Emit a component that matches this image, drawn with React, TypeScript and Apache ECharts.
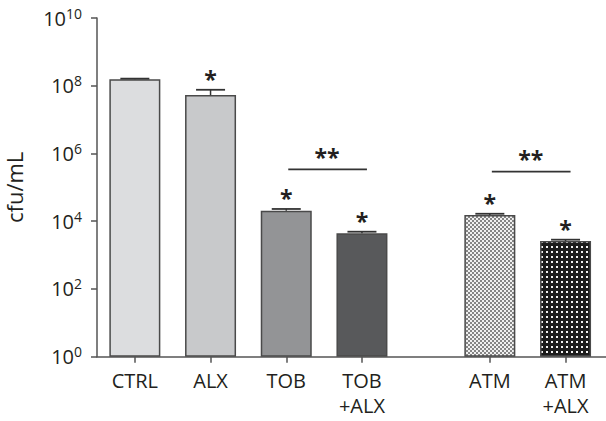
import React, { useEffect, useRef } from 'react';
import * as echarts from 'echarts';

// ---- data ----
const leftCategories = ['CTRL', 'ALX', 'TOB', 'TOB\n+ALX'];
const rightCategories = ['ATM', 'ATM\n+ALX'];
const leftMeans = [1.55e8, 5.3e7, 2.04e4, 4.4e3];
const leftErrorTops = [1.62e8, 7.6e7, 2.3e4, 4.9e3];
const leftSignificant = [false, true, true, true];
const rightMeans = [1.53e4, 2.6e3];
const rightErrorTops = [1.66e4, 2.85e3];
const rightSignificant = [true, true];
const yTickValues = [1, 1e2, 1e4, 1e6, 1e8, 1e10];
// [fromIndex, toIndex, level, label]
const leftComparisons: [number, number, number, string][] = [[2, 3, 3.4e5, '**']];
const rightComparisons: [number, number, number, string][] = [[0, 1, 2.9e5, '**']];

const FONT = 'Open Sans';
const AXIS_COLOR = '#555';
const TEXT_COLOR = '#231f20';
const BORDER = '#4a4a4a';

function makePattern(size: number, bg: string, fg: string, dots: number[][]) {
  const c = document.createElement('canvas');
  c.width = size;
  c.height = size;
  const ctx = c.getContext('2d')!;
  ctx.fillStyle = bg;
  ctx.fillRect(0, 0, size, size);
  ctx.fillStyle = fg;
  dots.forEach(([x, y, w, h]) => ctx.fillRect(x, y, w, h));
  return c;
}

export default function App() {
  const ref = useRef<HTMLDivElement>(null);
  useEffect(() => {
    document.body.style.margin = '0';
    const chart = echarts.init(ref.current!, null, { renderer: 'svg' });

    const atmPattern = makePattern(4, '#f0f0f0', '#858585', [[0, 0, 2, 2], [2, 2, 2, 2]]);
    const atmAlxPattern = makePattern(5, '#1c1c1c', '#f2f2f2', [[1, 1, 2, 2]]);

    const leftColors: any[] = ['#dcdddf', '#c8c9cb', '#939496', '#58595b'];
    const rightColors: any[] = [
      { image: atmPattern, repeat: 'repeat' },
      { image: atmAlxPattern, repeat: 'repeat' },
    ];

    const grids = [
      { left: 97, top: 18, width: 302.8, height: 338.7 },
      { left: 452, top: 18, width: 151.4, height: 338.7 },
      { left: 97, top: 18, right: 0, height: 338.7 },
    ];

    const xLabel = {
      fontFamily: FONT,
      fontSize: 20,
      color: TEXT_COLOR,
      lineHeight: 25,
      margin: 11,
      interval: 0,
    };

    const xAxisCommon = {
      type: 'category' as const,
      axisLine: { show: false },
      axisTick: { show: true, alignWithLabel: true, length: 6, lineStyle: { color: AXIS_COLOR, width: 1.5 } },
      axisLabel: xLabel,
    };

    const yAxisCommon = {
      type: 'log' as const,
      logBase: 10,
      min: 1,
      max: 1e10,
      splitLine: { show: false },
      minorTick: { show: false },
    };

    const errorSeries = (xi: number, means: number[], tops: number[], sig: boolean[]) => ({
      type: 'custom',
      xAxisIndex: xi,
      yAxisIndex: xi,
      z: 5,
      data: means.map((m, i) => [i, m, tops[i], sig[i] ? 1 : 0]),
      renderItem: (params: any, api: any) => {
        const i = api.value(0);
        const pBase = api.coord([i, api.value(1)]);
        const pTop = api.coord([i, api.value(2)]);
        const half = 14.5;
        const children: any[] = [
          { type: 'line', shape: { x1: pBase[0], y1: pBase[1], x2: pTop[0], y2: pTop[1] }, style: { stroke: '#333', lineWidth: 1.5 } },
          { type: 'line', shape: { x1: pTop[0] - half, y1: pTop[1], x2: pTop[0] + half, y2: pTop[1] }, style: { stroke: '#333', lineWidth: 1.8 } },
        ];
        if (api.value(3)) {
          children.push({
            type: 'text',
            x: pTop[0],
            y: pTop[1] + 1,
            style: { text: '*', fontFamily: FONT, fontSize: 23, fontWeight: 'bold', fill: TEXT_COLOR, align: 'center', verticalAlign: 'bottom' },
          });
        }
        return { type: 'group', children };
      },
    });

    const compareSeries = (xi: number, comps: [number, number, number, string][]) => ({
      type: 'custom',
      xAxisIndex: xi,
      yAxisIndex: xi,
      z: 5,
      data: comps.map((c) => [c[0], c[1], c[2]]),
      renderItem: (params: any, api: any) => {
        const p1 = api.coord([api.value(0), api.value(2)]);
        const p2 = api.coord([api.value(1), api.value(2)]);
        const label = comps[params.dataIndex][3];
        return {
          type: 'group',
          children: [
            { type: 'line', shape: { x1: p1[0] + 2, y1: p1[1], x2: p2[0] + 5, y2: p2[1] }, style: { stroke: '#333', lineWidth: 1.8 } },
            {
              type: 'text',
              x: (p1[0] + p2[0]) / 2 + 3,
              y: p1[1] - 1,
              style: { text: label, fontFamily: FONT, fontSize: 23, fontWeight: 'bold', fill: TEXT_COLOR, align: 'center', verticalAlign: 'bottom' },
            },
          ],
        };
      },
    });

    chart.setOption({
      animation: false,
      grid: grids,
      xAxis: [
        { ...xAxisCommon, gridIndex: 0, data: leftCategories },
        { ...xAxisCommon, gridIndex: 1, data: rightCategories },
        {
          type: 'value', gridIndex: 2, min: 0, max: 1,
          axisLine: { show: true, lineStyle: { color: AXIS_COLOR, width: 1.5 } },
          axisTick: { show: false }, axisLabel: { show: false }, splitLine: { show: false },
        },
      ],
      yAxis: [
        {
          ...yAxisCommon,
          gridIndex: 0,
          name: 'cfu/mL',
          nameLocation: 'middle',
          nameGap: 72,
          nameRotate: 90,
          nameTextStyle: { fontFamily: FONT, fontSize: 22, color: TEXT_COLOR },
          axisLine: { show: true, lineStyle: { color: AXIS_COLOR, width: 1.5 } },
          axisTick: { show: true, length: 6, customValues: yTickValues, lineStyle: { color: AXIS_COLOR, width: 1.5 } },
          axisLabel: {
            customValues: yTickValues,
            margin: 15,
            formatter: (v: number) => `{b|10}{s|${Math.round(Math.log10(v))}}`,
            rich: {
              b: { fontFamily: FONT, fontSize: 20, lineHeight: 24, color: TEXT_COLOR },
              s: { fontFamily: FONT, fontSize: 14, lineHeight: 14, verticalAlign: 'top', color: TEXT_COLOR },
            },
          },
        },
        { ...yAxisCommon, gridIndex: 1, show: false },
        { type: 'value', gridIndex: 2, show: false },
      ],
      series: [
        {
          type: 'bar',
          xAxisIndex: 0,
          yAxisIndex: 0,
          barWidth: 51,
          data: leftMeans.map((v, i) => ({ value: v, itemStyle: { color: leftColors[i] } })),
          itemStyle: { borderColor: BORDER, borderWidth: 1.5 },
        },
        {
          type: 'bar',
          xAxisIndex: 1,
          yAxisIndex: 1,
          barWidth: 51,
          data: rightMeans.map((v, i) => ({ value: v, itemStyle: { color: rightColors[i] } })),
          itemStyle: { borderColor: BORDER, borderWidth: 1.5 },
        },
        errorSeries(0, leftMeans, leftErrorTops, leftSignificant),
        errorSeries(1, rightMeans, rightErrorTops, rightSignificant),
        compareSeries(0, leftComparisons),
        compareSeries(1, rightComparisons),
      ],
    });
    return () => chart.dispose();
  }, []);
  return <div ref={ref} style={{ position: 'absolute', left: 0, top: 0, width: 606, height: 421 }} />;
}
